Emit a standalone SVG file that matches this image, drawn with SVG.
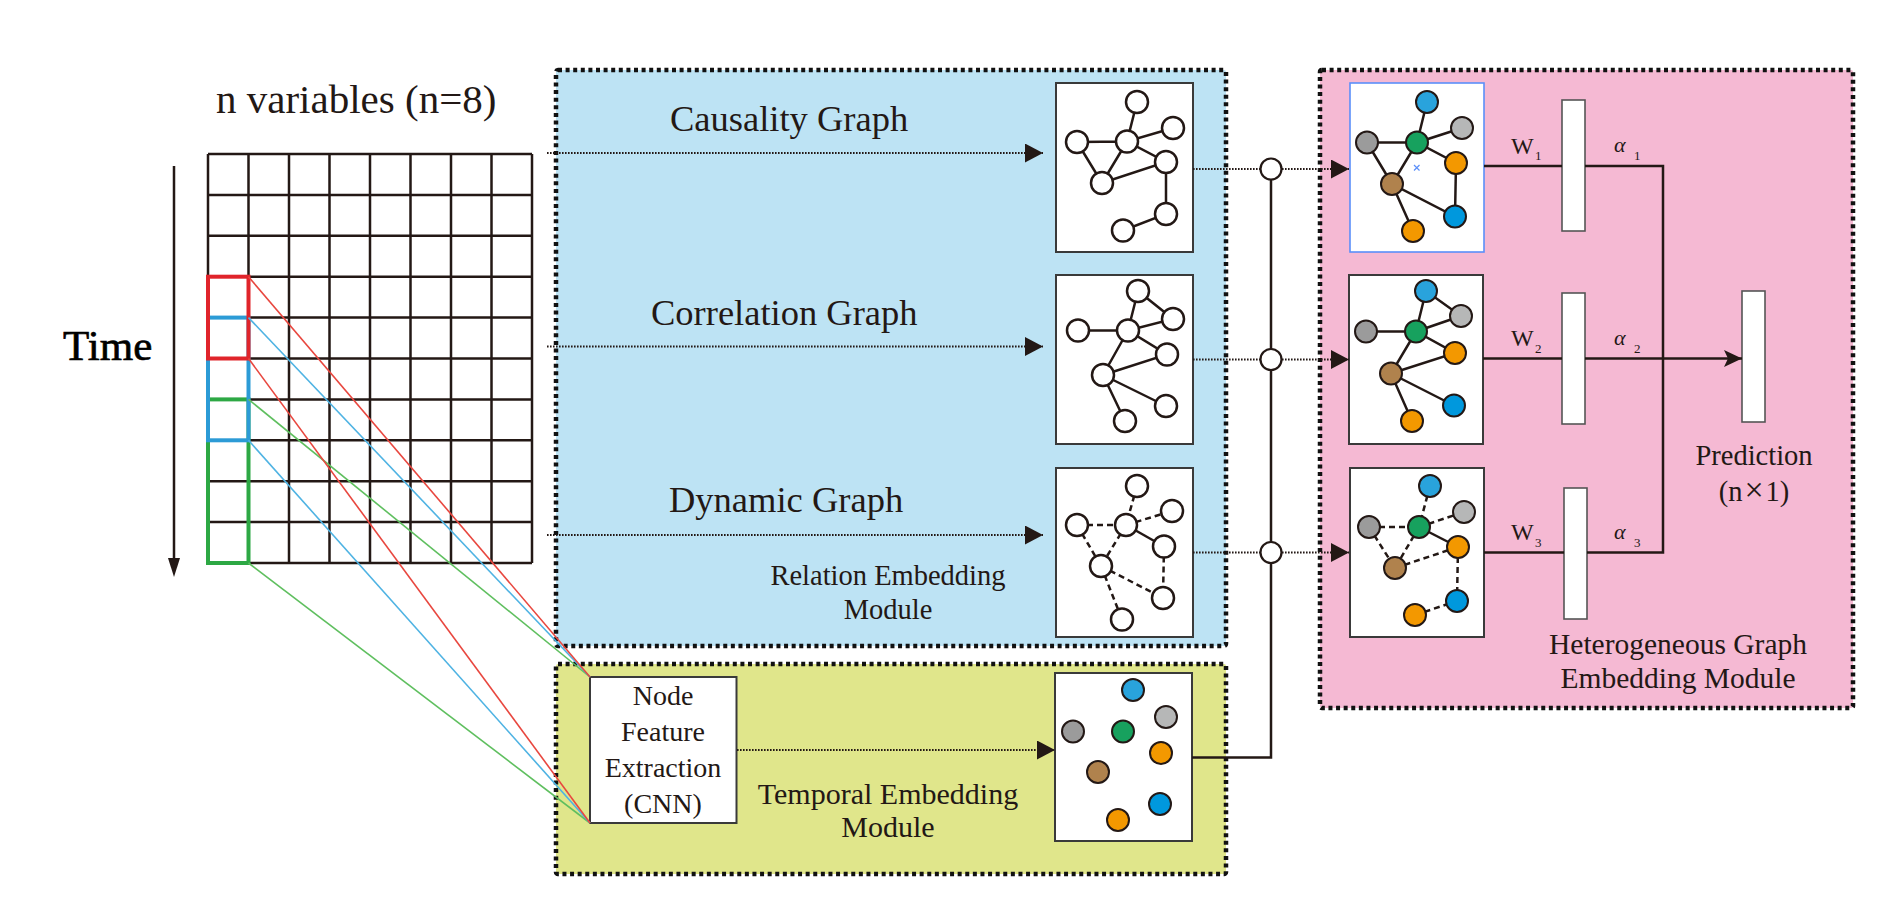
<svg xmlns="http://www.w3.org/2000/svg" width="1902" height="916" viewBox="0 0 1902 916">
<defs>
<style>
.t{font-family:"Liberation Serif","Times New Roman",serif;fill:#231815}
.mod{stroke:#111;stroke-width:4.5;stroke-dasharray:4 3.6}
.gbox{fill:#fff;stroke:#3a3a3a;stroke-width:2}
.e{stroke:#231815;stroke-width:2.5;fill:none}
.d{stroke:#231815;stroke-width:2.5;fill:none;stroke-dasharray:6 4}
.wn{fill:#fff;stroke:#231815;stroke-width:2.5}
.cn{stroke:#231815;stroke-width:2}
.dot{stroke:#231815;stroke-width:2.2;fill:none;stroke-dasharray:1.6 1.4}
.sol{stroke:#231815;stroke-width:2.5;fill:none}
.grid{stroke:#231815;stroke-width:2.5;fill:none}
.bar{fill:#fff;stroke:#555;stroke-width:1.6}
.blue{fill:#29a3dc}.blue2{fill:#0098dd}.gray1{fill:#9b9b9b}.gray2{fill:#b6b7b7}
.green{fill:#17a15e}.orange{fill:#f39800}.brown{fill:#b0824d}
</style>
<marker id="arr" markerUnits="userSpaceOnUse" markerWidth="18" markerHeight="19" refX="18" refY="9.5" orient="auto">
<path d="M0,0 L18,9.5 L0,19 z" fill="#231815"/>
</marker>
<marker id="arr2" markerUnits="userSpaceOnUse" markerWidth="18" markerHeight="17" refX="18" refY="8.5" orient="auto">
<path d="M0,0 L18,8.5 L0,17 L4,8.5 z" fill="#231815"/>
</marker>
</defs>
<rect width="1902" height="916" fill="#fff"/>

<!-- module backgrounds -->
<g id="relation-module">
<rect x="556" y="70" width="670" height="576" fill="#bde3f4" class="mod" rx="2"/>
<text class="t" x="888" y="585" font-size="28.5" text-anchor="middle">Relation Embedding</text>
<text class="t" x="888" y="619" font-size="28.5" text-anchor="middle">Module</text>
<text class="t" x="670" y="131" font-size="36.5">Causality Graph</text>
<text class="t" x="651" y="325" font-size="36.5">Correlation Graph</text>
<text class="t" x="669" y="512" font-size="36.5">Dynamic Graph</text>
</g>
<g id="temporal-module">
<rect x="556" y="664" width="670" height="210" fill="#e0e68b" class="mod" rx="2"/>
<text class="t" x="888" y="804" font-size="30" text-anchor="middle">Temporal Embedding</text>
<text class="t" x="888" y="837" font-size="30" text-anchor="middle">Module</text>
</g>
<g id="hetero-module">
<rect x="1320" y="70" width="533" height="638" fill="#f5b9d3" class="mod" rx="2"/>
<text class="t" x="1678" y="654" font-size="29.5" text-anchor="middle">Heterogeneous Graph</text>
<text class="t" x="1678" y="688" font-size="29.5" text-anchor="middle">Embedding Module</text>
</g>

<!-- time series grid -->
<g id="grid">
<text class="t" x="216" y="113" font-size="41">n variables (n=8)</text>
<text x="63" y="360" font-size="43" font-family="Liberation Serif, Times New Roman, serif" fill="#000" stroke="#000" stroke-width="0.7">Time</text>
<line x1="174" y1="166" x2="174" y2="560" stroke="#231815" stroke-width="2.5"/>
<polygon points="168,558 180,558 174,577" fill="#231815"/>
<path class="grid" d="M208,154H532M208,194.9H532M208,235.8H532M208,276.7H532M208,317.6H532M208,358.5H532M208,399.4H532M208,440.3H532M208,481.2H532M208,522.1H532M208,563H532
M208,154V563M248.5,154V563M289,154V563M329.5,154V563M370,154V563M410.5,154V563M451,154V563M491.5,154V563M532,154V563"/>
<rect x="208" y="399.4" width="40.5" height="163.6" fill="none" stroke="#2da844" stroke-width="4"/>
<rect x="208" y="317.6" width="40.5" height="122.7" fill="none" stroke="#2c9bd6" stroke-width="4"/>
<rect x="208" y="276.7" width="40.5" height="81.8" fill="none" stroke="#e0242b" stroke-width="4"/>
</g>

<!-- Node feature extraction -->
<g id="node-feature">
<rect x="590" y="677" width="146.5" height="146" fill="#fff" stroke="#3a3a3a" stroke-width="2"/>
<text class="t" x="663" y="705" font-size="28" text-anchor="middle">Node</text>
<text class="t" x="663" y="741" font-size="28" text-anchor="middle">Feature</text>
<text class="t" x="663" y="777" font-size="28" text-anchor="middle">Extraction</text>
<text class="t" x="663" y="813" font-size="28" text-anchor="middle">(CNN)</text>
</g>

<!-- middle graphs -->
<g id="causality-graph">
<rect class="gbox" x="1056" y="83" width="137" height="169"/>
<path class="e" d="M1137,102L1127,141.5L1173,128M1077,142L1127,141.5L1166,162L1102,183L1077,142M1127,141.5L1102,183M1166,162L1166,214L1123,230.5"/>
<circle class="wn" cx="1137" cy="102" r="11"/><circle class="wn" cx="1173" cy="128" r="11"/>
<circle class="wn" cx="1127" cy="141.5" r="11"/><circle class="wn" cx="1077" cy="142" r="11"/>
<circle class="wn" cx="1166" cy="162" r="11"/><circle class="wn" cx="1102" cy="183" r="11"/>
<circle class="wn" cx="1166" cy="214" r="11"/><circle class="wn" cx="1123" cy="230.5" r="11"/>
</g>
<g id="correlation-graph">
<rect class="gbox" x="1056" y="275" width="137" height="169"/>
<path class="e" d="M1138,291L1128,330.5L1173,319L1138,291M1078,330.5L1128,330.5L1167,354.5L1103,375L1128,330.5M1103,375L1166,406M1103,375L1125,421"/>
<circle class="wn" cx="1138" cy="291" r="11"/><circle class="wn" cx="1173" cy="319" r="11"/>
<circle class="wn" cx="1128" cy="330.5" r="11"/><circle class="wn" cx="1078" cy="330.5" r="11"/>
<circle class="wn" cx="1167" cy="354.5" r="11"/><circle class="wn" cx="1103" cy="375" r="11"/>
<circle class="wn" cx="1166" cy="406" r="11"/><circle class="wn" cx="1125" cy="421" r="11"/>
</g>
<g id="dynamic-graph">
<rect class="gbox" x="1056" y="468" width="137" height="169"/>
<path class="d" d="M1137,486L1126,525M1126,525L1172,511M1077,525L1126,525M1077,525L1101,566M1126,525L1101,566M1101,566L1163,598M1164,546.5L1163,598M1101,566L1122,619.5"/>
<path class="e" d="M1126,525L1164,546.5"/>
<circle class="wn" cx="1137" cy="486" r="11"/><circle class="wn" cx="1172" cy="511" r="11"/>
<circle class="wn" cx="1126" cy="525" r="11"/><circle class="wn" cx="1077" cy="525" r="11"/>
<circle class="wn" cx="1164" cy="546.5" r="11"/><circle class="wn" cx="1101" cy="566" r="11"/>
<circle class="wn" cx="1163" cy="598" r="11"/><circle class="wn" cx="1122" cy="619.5" r="11"/>
</g>
<g id="temporal-graph">
<rect class="gbox" x="1055" y="673" width="137" height="168"/>
<circle class="cn blue" cx="1133" cy="690" r="11"/><circle class="cn gray2" cx="1166" cy="717" r="11"/>
<circle class="cn gray1" cx="1073" cy="731.5" r="11"/><circle class="cn green" cx="1123" cy="731.5" r="11"/>
<circle class="cn orange" cx="1161" cy="753" r="11"/><circle class="cn brown" cx="1098" cy="772" r="11"/>
<circle class="cn blue2" cx="1160" cy="804" r="11"/><circle class="cn orange" cx="1118" cy="820" r="11"/>
</g>

<!-- heterogeneous graphs -->
<g id="hetero-graph-1">
<rect x="1350" y="83" width="134" height="169" fill="#fff" stroke="#5b8ff9" stroke-width="1.6"/>
<path class="e" d="M1427,102L1417,142.5L1462,128M1367,142.5L1417,142.5L1456,163L1455,216.5L1392,184L1367,142.5M1417,142.5L1392,184L1413,231"/>
<path d="M1414,165L1419.5,170.5M1419.5,165L1414,170.5" stroke="#5b8ff9" stroke-width="1.2"/>
<circle class="cn blue" cx="1427" cy="102" r="11"/><circle class="cn gray2" cx="1462" cy="128" r="11"/>
<circle class="cn gray1" cx="1367" cy="142.5" r="11"/><circle class="cn green" cx="1417" cy="142.5" r="11"/>
<circle class="cn orange" cx="1456" cy="163" r="11"/><circle class="cn brown" cx="1392" cy="184" r="11"/>
<circle class="cn blue2" cx="1455" cy="216.5" r="11"/><circle class="cn orange" cx="1413" cy="231" r="11"/>
</g>
<g id="hetero-graph-2">
<rect class="gbox" x="1349" y="275" width="134" height="169"/>
<path class="e" d="M1426,291L1416,331.5L1461,316L1426,291M1366,331.5L1416,331.5L1455,353L1391,373.5L1416,331.5M1391,373.5L1454,405.5M1391,373.5L1412,421"/>
<circle class="cn blue" cx="1426" cy="291" r="11"/><circle class="cn gray2" cx="1461" cy="316" r="11"/>
<circle class="cn gray1" cx="1366" cy="331.5" r="11"/><circle class="cn green" cx="1416" cy="331.5" r="11"/>
<circle class="cn orange" cx="1455" cy="353" r="11"/><circle class="cn brown" cx="1391" cy="373.5" r="11"/>
<circle class="cn blue2" cx="1454" cy="405.5" r="11"/><circle class="cn orange" cx="1412" cy="421" r="11"/>
</g>
<g id="hetero-graph-3">
<rect class="gbox" x="1350" y="468" width="134" height="169"/>
<path class="d" d="M1430,486L1419,527M1419,527L1464,512M1369,527L1419,527M1369,527L1395,568M1419,527L1395,568M1395,568L1458,547M1458,547L1457,601M1415,615L1457,601"/>
<path class="e" d="M1419,527L1458,547"/>
<circle class="cn blue" cx="1430" cy="486" r="11"/><circle class="cn gray2" cx="1464" cy="512" r="11"/>
<circle class="cn gray1" cx="1369" cy="527" r="11"/><circle class="cn green" cx="1419" cy="527" r="11"/>
<circle class="cn orange" cx="1458" cy="547" r="11"/><circle class="cn brown" cx="1395" cy="568" r="11"/>
<circle class="cn blue2" cx="1457" cy="601" r="11"/><circle class="cn orange" cx="1415" cy="615" r="11"/>
</g>

<!-- bars -->
<g id="bar-1"><rect class="bar" x="1562" y="100" width="23" height="131"/></g>
<g id="bar-2"><rect class="bar" x="1562" y="293" width="23" height="131"/></g>
<g id="bar-3"><rect class="bar" x="1564" y="488" width="23" height="131"/></g>
<g id="prediction">
<rect class="bar" x="1742" y="291" width="23" height="131"/>
<text class="t" x="1754" y="465" font-size="28.5" text-anchor="middle">Prediction</text>
<text class="t" x="1754" y="501" font-size="28.5" text-anchor="middle">(n<tspan dx="2" font-size="34">×</tspan><tspan dx="2">1)</tspan></text>
</g>

<!-- connectors -->
<g id="connectors">
<line class="dot" x1="547" y1="153" x2="1043" y2="153" marker-end="url(#arr)"/>
<line class="dot" x1="547" y1="346.5" x2="1043" y2="346.5" marker-end="url(#arr)"/>
<line class="dot" x1="547" y1="535" x2="1043" y2="535" marker-end="url(#arr)"/>
<line class="dot" x1="737" y1="750" x2="1055" y2="750" marker-end="url(#arr)"/>
<line class="dot" x1="1193" y1="169" x2="1260" y2="169"/>
<line class="dot" x1="1193" y1="359.5" x2="1260" y2="359.5"/>
<line class="dot" x1="1193" y1="552.5" x2="1260" y2="552.5"/>
<line class="dot" x1="1282" y1="169" x2="1349" y2="169" marker-end="url(#arr)"/>
<line class="dot" x1="1282" y1="359.5" x2="1349" y2="359.5" marker-end="url(#arr)"/>
<line class="dot" x1="1282" y1="552.5" x2="1349" y2="552.5" marker-end="url(#arr)"/>
<path class="sol" d="M1192,757.5H1271V169"/>
<circle cx="1271" cy="169" r="10.5" fill="#fff" stroke="#231815" stroke-width="2.2"/>
<circle cx="1271" cy="359.5" r="10.5" fill="#fff" stroke="#231815" stroke-width="2.2"/>
<circle cx="1271" cy="552.5" r="10.5" fill="#fff" stroke="#231815" stroke-width="2.2"/>
<path class="sol" d="M1484,166H1562M1585,166H1663V552.5H1587M1564,552.5H1484M1483,358.5H1562"/>
<line class="sol" x1="1585" y1="358.5" x2="1742" y2="358.5" marker-end="url(#arr2)"/>
<line x1="248.5" y1="399.4" x2="590" y2="677" stroke="#5fbf5f" stroke-width="1.6"/>
<line x1="248.5" y1="563" x2="590" y2="823" stroke="#5fbf5f" stroke-width="1.6"/>
<line x1="248.5" y1="317.6" x2="590" y2="677" stroke="#4fb3e3" stroke-width="1.6"/>
<line x1="248.5" y1="440.3" x2="590" y2="823" stroke="#4fb3e3" stroke-width="1.6"/>
<line x1="248.5" y1="276.7" x2="590" y2="677" stroke="#e8473f" stroke-width="1.6"/>
<line x1="248.5" y1="358.5" x2="590" y2="823" stroke="#e8473f" stroke-width="1.6"/>
</g>

<!-- weight labels -->
<g id="labels">
<text class="t" x="1511" y="153.5" font-size="24">W</text><text class="t" x="1535" y="160" font-size="13">1</text>
<text class="t" x="1511" y="346" font-size="24">W</text><text class="t" x="1535" y="352.5" font-size="13">2</text>
<text class="t" x="1511" y="540" font-size="24">W</text><text class="t" x="1535" y="546.5" font-size="13">3</text>
<text class="t" x="1614" y="152" font-size="22" font-style="italic">α</text><text class="t" x="1634" y="160" font-size="13">1</text>
<text class="t" x="1614" y="345" font-size="22" font-style="italic">α</text><text class="t" x="1634" y="352.5" font-size="13">2</text>
<text class="t" x="1614" y="539" font-size="22" font-style="italic">α</text><text class="t" x="1634" y="546.5" font-size="13">3</text>
</g>
</svg>
